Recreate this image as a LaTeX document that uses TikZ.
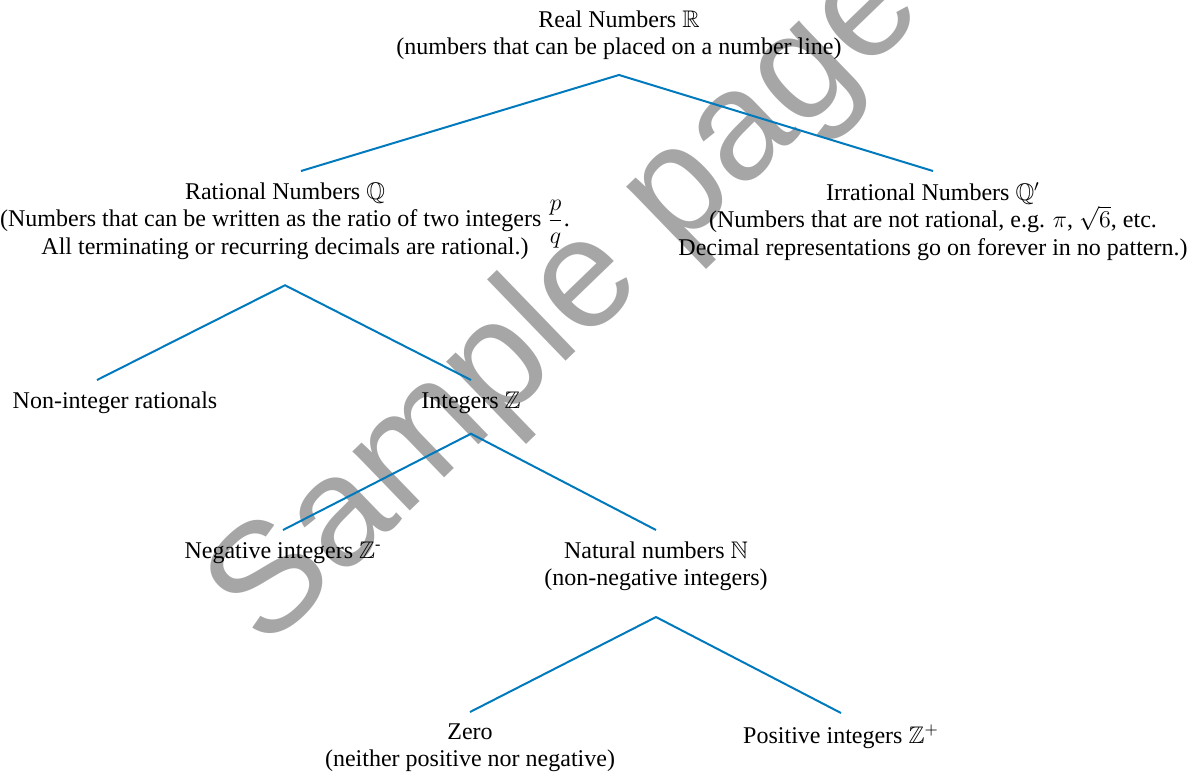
\documentclass[tikz,border=0pt]{standalone}
\usepackage{amsmath,amssymb}
\usepackage{fontspec}
\setmainfont{Liberation Serif}
\newfontfamily\markfont{Liberation Sans}
\usetikzlibrary{positioning}

\definecolor{branchblue}{RGB}{0,122,189}
\definecolor{markgrey}{RGB}{166,166,166}

\begin{document}
\begin{tikzpicture}[x=0.5pt,y=-0.5pt,
        set node/.style={align=center, anchor=north, inner sep=0pt, outer sep=6pt,
        font=\fontsize{12}{13.6}\selectfont},
        branch/.style={draw=branchblue, line width=1pt}
        ]
        \useasboundingbox (0,0) rectangle (1195,773);

        % watermark
        \node [markgrey, rotate=44, font=\markfont\fontsize{78}{78}\selectfont] (mark) at (568,303) {Sample page};

        \node [set node] (real) at (619,-1) {Real Numbers $\mathbb{R}$\\(numbers that can be placed on a number line)};
        \node [set node] (rat) at (285,171) {Rational Numbers $\mathbb{Q}$\\(Numbers that can be written as the ratio of two integers $\smash{\dfrac{p}{q}}$.\\All terminating or recurring decimals are rational.)};
        \node [set node] (irr) at (933,171) {Irrational Numbers $\mathbb{Q}'$\\(Numbers that are not rational, e.g. $\pi$, $\sqrt{6}$, etc.\\Decimal representations go on forever in no pattern.)};
        \node [set node] (nonint) at (115,380) {Non-integer rationals};
        \node [set node] (int) at (471,380) {Integers $\mathbb{Z}$};
        \node [set node] (neg) at (283,530) {Negative integers $\mathbb{Z}$\textsuperscript{-}};
        \node [set node] (nat) at (656,530) {Natural numbers $\mathbb{N}$\\(non-negative integers)};
        \node [set node] (zero) at (470,712) {Zero\\(neither positive nor negative)};
        \node [set node] (pos) at (841,713) {Positive integers $\mathbb{Z}^{+}$};

        % forks under each parent
        \coordinate [below=1.5pt of real] (realfork);
        \coordinate [below=7pt of rat] (ratfork);
        \coordinate [below=4pt of int] (intfork);
        \coordinate [below=7pt of nat] (natfork);

        \path[branch]
        ([xshift=8pt]rat.north) -- (realfork) -- (irr.north)
        ([xshift=-9pt]nonint.north) -- (ratfork) -- (int.north)
        (neg.north) -- (intfork) -- (nat.north)
        (zero.north) -- (natfork) -- (pos.north)
        ;
\end{tikzpicture}
\end{document}
